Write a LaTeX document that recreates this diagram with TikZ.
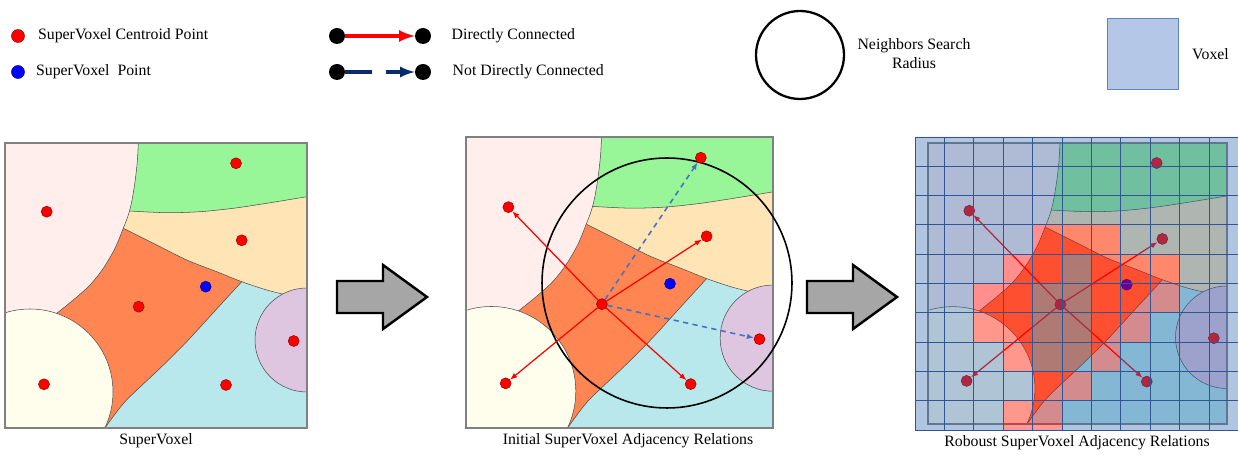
\documentclass[tikz,border=0pt]{standalone}
\usepackage{fontspec}
\setmainfont{Liberation Serif}
\usetikzlibrary{positioning, arrows.meta}

\definecolor{pinkreg}{HTML}{FFEEEC}
\definecolor{greenreg}{HTML}{98F598}
\definecolor{beigereg}{HTML}{FFE4B5}
\definecolor{orangereg}{HTML}{FF8552}
\definecolor{bluereg}{HTML}{B8E8EC}
\definecolor{yellowreg}{HTML}{FFFDEC}
\definecolor{purplereg}{HTML}{DFC6E0}
\definecolor{farblue}{HTML}{4472C4}
\definecolor{navyline}{HTML}{0B2A6B}
\definecolor{voxfill}{HTML}{B4C7E7}
\definecolor{voxedge}{HTML}{5B84C8}
\definecolor{vxblue}{HTML}{2F69AD}
\definecolor{vxgrid}{HTML}{2F5597}
\definecolor{arrowgray}{HTML}{A6A6A6}

\def \cw {29.4}
\def \ch {29.3}
\def \hotcells {4/3,5/3,6/3,3/4,4/4,6/4,7/4,8/4,2/5,3/5,6/5,7/5,8/5,2/6,3/6,6/6,7/6,3/7,6/7,4/8,5/8,3/9,4/9}

% supervoxel regions, local panel coordinates (302 x 285)
\newcommand{\svregions}{
  \fill[bluereg] (0,0) rectangle (302,285);
  \filldraw[reg, fill=orangereg] plot[smooth] coordinates {(255,118.7) (236.7,138.7) (208,170) (181.7,198.7) (155,225.3) (120,258.7) (100,285)} -- (0,285) -- (0,0) -- (255,0) -- cycle;
  \filldraw[reg, fill=beigereg] plot[smooth] coordinates {(118.3,85.3) (151.7,102) (181.7,117) (211.7,128.7) (236.7,138.7) (261.7,147) (281.7,152) (302,156.3)} -- (302,0) -- (0,0) -- (0,85.3) -- cycle;
  \filldraw[reg, fill=greenreg] plot[smooth] coordinates {(124.5,68) (161.7,69.7) (195,68.7) (228.3,65.3) (261.7,60.3) (302,53.7)} -- (302,0) -- (0,0) -- (0,68) -- cycle;
  \filldraw[reg, fill=pinkreg] (0,0) -- plot[smooth] coordinates {(133.3,0) (132.3,18.7) (130,38.7) (126.7,58.7) (123.3,72) (118.3,85.3) (110,105.3) (98.3,125.3) (85,142) (68.3,157) (51.7,170.3)} -- (0,170) -- cycle;
  \begin{scope}
    \clip (0,0) rectangle (302,285);
    \filldraw[reg, fill=yellowreg] (25,249) circle (83);
    \filldraw[reg, fill=purplereg] (302,197) circle (52);
  \end{scope}
  \draw[gray, line width=0.8pt] (0,0) rectangle (302,285);
}

% centroid points of one panel, #1 = prefix of the node names
\newcommand{\svdots}[1]{
  \node[centroid] (#1g) at (231,20.3) {};
  \node[centroid] (#1p) at (41.7,68.7) {};
  \node[centroid] (#1b) at (236.7,97.3) {};
  \node[svpoint] (#1s) at (200.7,143.7) {};
  \node[centroid] (#1c) at (133.7,163.7) {};
  \node[centroid] (#1u) at (288.7,198) {};
  \node[centroid] (#1y) at (39,241.3) {};
  \node[centroid] (#1l) at (221,242) {};
}

\begin{document}
\begin{tikzpicture}[x=0.02cm, y=-0.02cm, >=latex,
  every node/.style={font=\fontsize{9}{10.8}\selectfont},
  reg/.style={draw=gray!60!black, line width=0.3pt},
  centroid/.style={circle, fill=red, draw=red!60!black, line width=0.3pt, inner sep=0pt, minimum size=0.22cm},
  svpoint/.style={centroid, fill=blue, draw=blue!60!black},
  blackdot/.style={circle, fill=black, inner sep=0pt, minimum size=0.32cm},
  ring/.style={draw, circle, inner sep=0pt, line width=0.9pt},
  rel/.style={red, line width=0.7pt, -{Latex[length=4pt,width=3.2pt]}},
  relfar/.style={farblue, line width=0.9pt, dash pattern=on 3pt off 2.5pt, -{Latex[length=4pt,width=3.2pt]}},
  legnear/.style={red, line width=2pt},
  legfar/.style={navyline, line width=1.8pt, dash pattern=on 15pt off 8pt},
  lbl/.style={inner sep=0pt},
  pcap/.style={inner sep=0pt},
  bigarrow/.style={draw=black, fill=arrowgray, line width=1.4pt, line join=miter},
  vgrid/.style={vxgrid, line width=0.5pt}]
\useasboundingbox (0,0) rectangle (1238,455);

% legend
\node[centroid, minimum size=0.26cm] (lgc) at (18,36) {};
\node[lbl, right=0.26cm of lgc] (lgct) {SuperVoxel Centroid Point};
\node[svpoint, minimum size=0.26cm] (lgs) at (18,72) {};
\node[lbl, right=0.22cm of lgs] (lgst) {SuperVoxel\ \ Point};
\node[blackdot] (lga1) at (337,36) {};
\node[blackdot] (lga2) at (423,36) {};
\node[blackdot] (lgb1) at (337,72) {};
\node[blackdot] (lgb2) at (423,72) {};
\draw[legnear, ->] (lga1) -- (lga2);
\draw[legfar, ->] (lgb1) -- (lgb2);
\node[lbl, right=0.4cm of lga2] (lgat) {Directly Connected};
\node[lbl, right=0.42cm of lgb2] (lgbt) {Not Directly Connected};
\node[ring, minimum size=1.76cm, line width=1.3pt] (lgr) at (800,55) {};
\node[lbl, align=center] (lgrt) at (914,54) {Neighbors Search\\Radius};
\node[draw=voxedge, fill=voxfill, minimum size=1.42cm, inner sep=0pt] (lgv) at (1143,54) {};
\node[lbl, right=0.26cm of lgv] (lgvt) {Voxel};

% panel 1
\begin{scope}[shift={(5,143)}]
  \svregions
  \svdots{a}
\end{scope}
\node[pcap] (cap1) at (156,441) {SuperVoxel};

\draw[bigarrow] (337,281) -- (383,281) -- (383,265) -- (427,297) -- (383,329) -- (383,313) -- (337,313) -- cycle;

% panel 2
\begin{scope}[shift={(466,137)}, xscale=1.0166, yscale=1.021]
  \svregions
\end{scope}
\node[ring, minimum size=5cm] (srch) at (667,283) {};
\begin{scope}[shift={(466,137)}, xscale=1.0166, yscale=1.021]
  \svdots{b}
\end{scope}
\draw[rel] (bc) -- (bp);
\draw[rel] (bc) -- (bb);
\draw[rel] (bc) -- (by);
\draw[rel] (bc) -- (bl);
\draw[relfar] (bc) -- (bg);
\draw[relfar] (bc) -- (bu);
\node[pcap] (cap2) at (628,441) {Initial SuperVoxel Adjacency Relations};

\draw[bigarrow, shift={(470,0)}] (337,281) -- (383,281) -- (383,265) -- (427,297) -- (383,329) -- (383,313) -- (337,313) -- cycle;

% panel 3
\begin{scope}[shift={(928,143)}, xscale=0.99, yscale=0.986]
  \svregions
  \svdots{c}
\end{scope}
\draw[rel] (cc) -- (cp);
\draw[rel] (cc) -- (cb);
\draw[rel] (cc) -- (cy);
\draw[rel] (cc) -- (cl);
\fill[vxblue, opacity=.38, even odd rule] (915,137) rectangle (1238,430)
  \foreach \ci/\ri in \hotcells {({915+\ci*\cw},{137+\ri*\ch}) rectangle ({915+(\ci+1)*\cw},{137+(\ri+1)*\ch})};
\foreach \ci/\ri in \hotcells
  \fill[red, opacity=.4] ({915+\ci*\cw},{137+\ri*\ch}) rectangle ({915+(\ci+1)*\cw},{137+(\ri+1)*\ch});
\foreach \k in {0,...,11}
  \draw[vgrid] ({915+\k*\cw},137) -- ({915+\k*\cw},430);
\foreach \k in {0,...,10}
  \draw[vgrid] (915,{137+\k*\ch}) -- (1238,{137+\k*\ch});
\node[pcap] (cap3) at (1077,443) {Roboust SuperVoxel Adjacency Relations};
\end{tikzpicture}
\end{document}
